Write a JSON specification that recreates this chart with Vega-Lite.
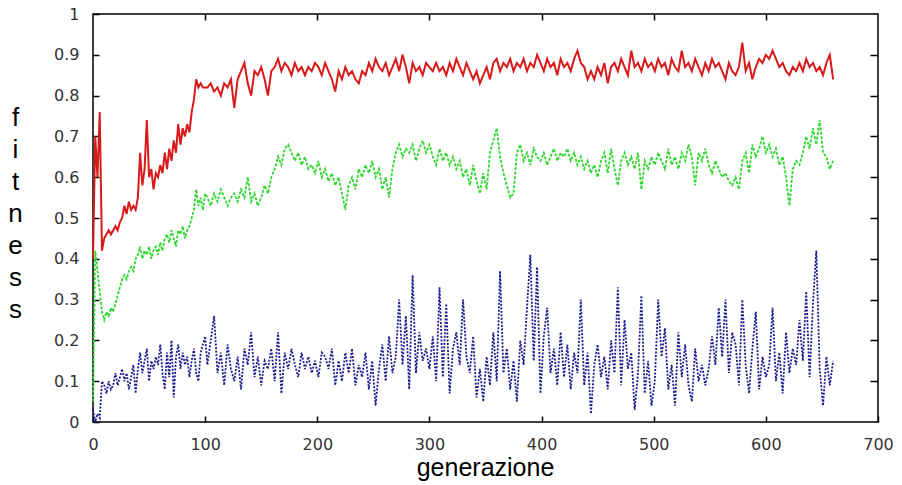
{
"$schema": "https://vega.github.io/schema/vega-lite/v6.json",
"width": 785, "height": 408,
"autosize": "none",
"padding": {"left": 93, "top": 14, "right": 24, "bottom": 63},
"background": "white",
"config": {
  "view": {"stroke": "black", "strokeWidth": 1.5},
  "axis": {"domain": false, "grid": false, "tickColor": "black", "tickWidth": 1.5, "labelFont": "DejaVu Sans", "labelFontSize": 16, "labelColor": "#333", "labelFlush": false, "labelOverlap": false}
},
"data": {"values": [
{"g":0,"r":0.40,"v":0.05,"b":0.03},{"g":2,"r":0.70,"v":0.42,"b":0.00},{"g":4,"r":0.60,"v":0.37,"b":0.02},{"g":6,"r":0.76,"v":0.32,"b":0.01},
{"g":8,"r":0.42,"v":0.27,"b":0.10},{"g":10,"r":0.45,"v":0.25,"b":0.09},{"g":12,"r":0.46,"v":0.27,"b":0.07},{"g":14,"r":0.47,"v":0.26,"b":0.10},
{"g":16,"r":0.46,"v":0.28,"b":0.08},{"g":18,"r":0.47,"v":0.27,"b":0.09},{"g":20,"r":0.48,"v":0.29,"b":0.12},{"g":22,"r":0.47,"v":0.31,"b":0.09},
{"g":24,"r":0.49,"v":0.33,"b":0.11},{"g":26,"r":0.50,"v":0.35,"b":0.13},{"g":28,"r":0.53,"v":0.36,"b":0.10},{"g":30,"r":0.51,"v":0.35,"b":0.12},
{"g":32,"r":0.54,"v":0.37,"b":0.08},{"g":34,"r":0.52,"v":0.38,"b":0.11},{"g":36,"r":0.53,"v":0.37,"b":0.14},{"g":38,"r":0.52,"v":0.40,"b":0.07},
{"g":40,"r":0.55,"v":0.41,"b":0.13},{"g":42,"r":0.66,"v":0.43,"b":0.17},{"g":44,"r":0.58,"v":0.40,"b":0.12},{"g":46,"r":0.62,"v":0.42,"b":0.15},
{"g":48,"r":0.74,"v":0.41,"b":0.18},{"g":50,"r":0.60,"v":0.43,"b":0.10},{"g":52,"r":0.62,"v":0.40,"b":0.15},{"g":54,"r":0.57,"v":0.42,"b":0.13},
{"g":56,"r":0.61,"v":0.43,"b":0.16},{"g":58,"r":0.60,"v":0.41,"b":0.14},{"g":60,"r":0.63,"v":0.44,"b":0.19},{"g":62,"r":0.61,"v":0.42,"b":0.12},
{"g":64,"r":0.66,"v":0.45,"b":0.08},{"g":66,"r":0.62,"v":0.46,"b":0.17},{"g":68,"r":0.67,"v":0.44,"b":0.11},{"g":70,"r":0.64,"v":0.47,"b":0.20},
{"g":72,"r":0.69,"v":0.45,"b":0.06},{"g":74,"r":0.66,"v":0.43,"b":0.16},{"g":76,"r":0.73,"v":0.47,"b":0.19},{"g":78,"r":0.68,"v":0.46,"b":0.13},
{"g":80,"r":0.72,"v":0.48,"b":0.17},{"g":82,"r":0.70,"v":0.45,"b":0.14},{"g":84,"r":0.73,"v":0.47,"b":0.16},{"g":86,"r":0.71,"v":0.48,"b":0.11},
{"g":88,"r":0.76,"v":0.50,"b":0.15},{"g":90,"r":0.79,"v":0.52,"b":0.18},{"g":92,"r":0.84,"v":0.57,"b":0.12},{"g":94,"r":0.82,"v":0.53,"b":0.10},
{"g":96,"r":0.83,"v":0.55,"b":0.17},{"g":98,"r":0.82,"v":0.52,"b":0.19},{"g":100,"r":0.82,"v":0.56,"b":0.21},
{"g":102,"r":0.82,"v":0.55,"b":0.14},{"g":105,"r":0.83,"v":0.53,"b":0.20},{"g":108,"r":0.81,"v":0.56,"b":0.26},{"g":111,"r":0.82,"v":0.54,"b":0.12},
{"g":114,"r":0.80,"v":0.57,"b":0.17},{"g":117,"r":0.83,"v":0.55,"b":0.09},{"g":120,"r":0.82,"v":0.53,"b":0.19},{"g":123,"r":0.84,"v":0.55,"b":0.13},
{"g":126,"r":0.77,"v":0.56,"b":0.10},{"g":129,"r":0.84,"v":0.54,"b":0.16},{"g":132,"r":0.86,"v":0.57,"b":0.08},{"g":135,"r":0.88,"v":0.55,"b":0.18},
{"g":138,"r":0.83,"v":0.60,"b":0.14},{"g":141,"r":0.80,"v":0.54,"b":0.22},{"g":144,"r":0.86,"v":0.56,"b":0.11},{"g":147,"r":0.85,"v":0.53,"b":0.16},
{"g":150,"r":0.87,"v":0.55,"b":0.09},{"g":153,"r":0.84,"v":0.58,"b":0.15},{"g":156,"r":0.80,"v":0.56,"b":0.13},{"g":159,"r":0.86,"v":0.60,"b":0.18},
{"g":162,"r":0.87,"v":0.62,"b":0.10},{"g":165,"r":0.89,"v":0.65,"b":0.22},{"g":168,"r":0.86,"v":0.63,"b":0.07},{"g":171,"r":0.88,"v":0.67,"b":0.17},
{"g":174,"r":0.87,"v":0.68,"b":0.13},{"g":177,"r":0.85,"v":0.66,"b":0.18},{"g":180,"r":0.88,"v":0.64,"b":0.14},{"g":183,"r":0.86,"v":0.66,"b":0.11},
{"g":186,"r":0.87,"v":0.63,"b":0.17},{"g":189,"r":0.85,"v":0.65,"b":0.13},{"g":192,"r":0.87,"v":0.62,"b":0.16},{"g":195,"r":0.86,"v":0.63,"b":0.12},
{"g":198,"r":0.88,"v":0.61,"b":0.15},{"g":201,"r":0.87,"v":0.64,"b":0.11},{"g":204,"r":0.85,"v":0.60,"b":0.17},{"g":207,"r":0.88,"v":0.62,"b":0.16},
{"g":210,"r":0.86,"v":0.59,"b":0.13},{"g":213,"r":0.84,"v":0.61,"b":0.18},{"g":216,"r":0.81,"v":0.58,"b":0.09},{"g":219,"r":0.86,"v":0.60,"b":0.15},
{"g":222,"r":0.84,"v":0.56,"b":0.10},{"g":225,"r":0.87,"v":0.52,"b":0.17},{"g":228,"r":0.85,"v":0.58,"b":0.12},{"g":231,"r":0.86,"v":0.60,"b":0.18},
{"g":234,"r":0.84,"v":0.57,"b":0.09},{"g":237,"r":0.83,"v":0.62,"b":0.14},{"g":240,"r":0.86,"v":0.60,"b":0.11},{"g":243,"r":0.85,"v":0.63,"b":0.17},
{"g":246,"r":0.88,"v":0.61,"b":0.08},{"g":249,"r":0.86,"v":0.64,"b":0.15},{"g":252,"r":0.89,"v":0.60,"b":0.04},{"g":255,"r":0.87,"v":0.62,"b":0.13},
{"g":258,"r":0.86,"v":0.57,"b":0.19},{"g":261,"r":0.88,"v":0.60,"b":0.10},{"g":264,"r":0.85,"v":0.55,"b":0.21},{"g":267,"r":0.87,"v":0.62,"b":0.12},
{"g":270,"r":0.89,"v":0.66,"b":0.16},{"g":273,"r":0.86,"v":0.68,"b":0.30},{"g":276,"r":0.90,"v":0.65,"b":0.14},{"g":279,"r":0.87,"v":0.67,"b":0.26},
{"g":282,"r":0.83,"v":0.66,"b":0.08},{"g":285,"r":0.88,"v":0.68,"b":0.36},{"g":288,"r":0.86,"v":0.64,"b":0.12},{"g":291,"r":0.87,"v":0.67,"b":0.22},
{"g":294,"r":0.85,"v":0.69,"b":0.15},{"g":297,"r":0.88,"v":0.66,"b":0.18},{"g":300,"r":0.87,"v":0.68,"b":0.13},{"g":303,"r":0.86,"v":0.65,"b":0.21},
{"g":306,"r":0.88,"v":0.63,"b":0.10},{"g":309,"r":0.86,"v":0.67,"b":0.33},{"g":312,"r":0.87,"v":0.64,"b":0.11},{"g":315,"r":0.85,"v":0.66,"b":0.29},
{"g":318,"r":0.88,"v":0.63,"b":0.07},{"g":321,"r":0.86,"v":0.65,"b":0.18},{"g":324,"r":0.89,"v":0.62,"b":0.22},{"g":327,"r":0.87,"v":0.64,"b":0.14},
{"g":330,"r":0.85,"v":0.60,"b":0.30},{"g":333,"r":0.88,"v":0.62,"b":0.16},{"g":336,"r":0.86,"v":0.58,"b":0.12},{"g":339,"r":0.84,"v":0.63,"b":0.21},
{"g":342,"r":0.86,"v":0.59,"b":0.06},{"g":345,"r":0.83,"v":0.56,"b":0.13},{"g":348,"r":0.85,"v":0.61,"b":0.05},{"g":351,"r":0.87,"v":0.57,"b":0.16},
{"g":354,"r":0.84,"v":0.66,"b":0.09},{"g":357,"r":0.88,"v":0.69,"b":0.22},{"g":360,"r":0.89,"v":0.72,"b":0.10},{"g":363,"r":0.86,"v":0.65,"b":0.37},
{"g":366,"r":0.88,"v":0.61,"b":0.12},{"g":369,"r":0.87,"v":0.58,"b":0.18},{"g":372,"r":0.89,"v":0.55,"b":0.08},{"g":375,"r":0.86,"v":0.56,"b":0.15},
{"g":378,"r":0.88,"v":0.66,"b":0.05},{"g":381,"r":0.87,"v":0.68,"b":0.20},{"g":384,"r":0.89,"v":0.64,"b":0.14},{"g":387,"r":0.86,"v":0.66,"b":0.28},
{"g":390,"r":0.88,"v":0.63,"b":0.41},{"g":393,"r":0.87,"v":0.67,"b":0.15},{"g":396,"r":0.90,"v":0.65,"b":0.38},{"g":399,"r":0.88,"v":0.64,"b":0.07},
{"g":402,"r":0.86,"v":0.66,"b":0.21},{"g":405,"r":0.89,"v":0.63,"b":0.28},{"g":408,"r":0.87,"v":0.65,"b":0.12},{"g":411,"r":0.88,"v":0.67,"b":0.18},
{"g":414,"r":0.85,"v":0.64,"b":0.09},{"g":417,"r":0.89,"v":0.66,"b":0.22},{"g":420,"r":0.87,"v":0.65,"b":0.11},{"g":423,"r":0.88,"v":0.67,"b":0.19},
{"g":426,"r":0.86,"v":0.64,"b":0.08},{"g":429,"r":0.89,"v":0.66,"b":0.17},{"g":432,"r":0.91,"v":0.63,"b":0.12},{"g":435,"r":0.88,"v":0.65,"b":0.30},
{"g":438,"r":0.87,"v":0.62,"b":0.09},{"g":441,"r":0.84,"v":0.64,"b":0.17},{"g":444,"r":0.86,"v":0.61,"b":0.02},{"g":447,"r":0.84,"v":0.63,"b":0.14},
{"g":450,"r":0.87,"v":0.60,"b":0.19},{"g":453,"r":0.85,"v":0.64,"b":0.11},{"g":456,"r":0.88,"v":0.66,"b":0.16},{"g":459,"r":0.83,"v":0.61,"b":0.08},
{"g":462,"r":0.87,"v":0.67,"b":0.20},{"g":465,"r":0.88,"v":0.62,"b":0.12},{"g":468,"r":0.86,"v":0.58,"b":0.33},{"g":471,"r":0.89,"v":0.64,"b":0.09},
{"g":474,"r":0.87,"v":0.66,"b":0.25},{"g":477,"r":0.85,"v":0.63,"b":0.13},{"g":480,"r":0.91,"v":0.65,"b":0.17},{"g":483,"r":0.87,"v":0.62,"b":0.03},
{"g":486,"r":0.88,"v":0.66,"b":0.12},{"g":489,"r":0.86,"v":0.57,"b":0.31},{"g":492,"r":0.89,"v":0.64,"b":0.07},{"g":495,"r":0.87,"v":0.62,"b":0.15},
{"g":498,"r":0.88,"v":0.65,"b":0.04},{"g":501,"r":0.86,"v":0.63,"b":0.10},{"g":504,"r":0.89,"v":0.66,"b":0.30},{"g":507,"r":0.87,"v":0.64,"b":0.16},
{"g":510,"r":0.88,"v":0.62,"b":0.23},{"g":513,"r":0.85,"v":0.67,"b":0.08},{"g":516,"r":0.89,"v":0.63,"b":0.14},{"g":519,"r":0.87,"v":0.65,"b":0.04},
{"g":522,"r":0.86,"v":0.62,"b":0.22},{"g":525,"r":0.91,"v":0.66,"b":0.11},{"g":528,"r":0.87,"v":0.64,"b":0.19},{"g":531,"r":0.88,"v":0.68,"b":0.09},
{"g":534,"r":0.86,"v":0.65,"b":0.05},{"g":537,"r":0.89,"v":0.58,"b":0.18},{"g":540,"r":0.87,"v":0.66,"b":0.10},{"g":543,"r":0.85,"v":0.64,"b":0.14},
{"g":546,"r":0.88,"v":0.67,"b":0.09},{"g":549,"r":0.86,"v":0.63,"b":0.13},{"g":552,"r":0.89,"v":0.61,"b":0.21},{"g":555,"r":0.87,"v":0.64,"b":0.14},
{"g":558,"r":0.88,"v":0.62,"b":0.28},{"g":561,"r":0.86,"v":0.60,"b":0.16},{"g":564,"r":0.84,"v":0.61,"b":0.30},{"g":567,"r":0.88,"v":0.59,"b":0.12},
{"g":570,"r":0.86,"v":0.58,"b":0.22},{"g":573,"r":0.85,"v":0.60,"b":0.19},{"g":576,"r":0.87,"v":0.57,"b":0.09},{"g":579,"r":0.93,"v":0.64,"b":0.30},
{"g":582,"r":0.86,"v":0.66,"b":0.14},{"g":585,"r":0.88,"v":0.61,"b":0.07},{"g":588,"r":0.84,"v":0.68,"b":0.18},{"g":591,"r":0.87,"v":0.65,"b":0.27},
{"g":594,"r":0.89,"v":0.67,"b":0.08},{"g":597,"r":0.88,"v":0.70,"b":0.16},{"g":600,"r":0.90,"v":0.66,"b":0.11},{"g":603,"r":0.89,"v":0.68,"b":0.14},
{"g":606,"r":0.91,"v":0.65,"b":0.28},{"g":609,"r":0.89,"v":0.67,"b":0.10},{"g":612,"r":0.87,"v":0.63,"b":0.17},{"g":615,"r":0.88,"v":0.65,"b":0.07},
{"g":618,"r":0.86,"v":0.60,"b":0.22},{"g":621,"r":0.85,"v":0.53,"b":0.12},{"g":624,"r":0.87,"v":0.62,"b":0.18},{"g":627,"r":0.86,"v":0.64,"b":0.14},
{"g":630,"r":0.88,"v":0.63,"b":0.25},{"g":633,"r":0.86,"v":0.66,"b":0.15},{"g":636,"r":0.89,"v":0.70,"b":0.32},{"g":639,"r":0.87,"v":0.67,"b":0.11},
{"g":642,"r":0.88,"v":0.72,"b":0.29},{"g":645,"r":0.86,"v":0.68,"b":0.42},{"g":648,"r":0.87,"v":0.74,"b":0.13},{"g":651,"r":0.85,"v":0.66,"b":0.04},
{"g":654,"r":0.88,"v":0.65,"b":0.16},{"g":657,"r":0.90,"v":0.62,"b":0.09},{"g":660,"r":0.84,"v":0.64,"b":0.15}
]},
"layer": [
  {
    "mark": {"type": "line", "color": "#d81a1a", "strokeWidth": 2, "interpolate": "linear"},
    "encoding": {
      "x": {"field": "g", "type": "quantitative", "scale": {"domain": [0, 700], "nice": false},
        "axis": {"orient": "bottom", "values": [0,100,200,300,400,500,600,700], "tickSize": -6, "labelPadding": 20,
          "title": "generazione", "titleFont": "Liberation Sans", "titleFontSize": 25, "titleFontWeight": "normal", "titleColor": "black",
          "titleBaseline": "alphabetic", "titleY": 53, "titleX": 392, "titleAlign": "center"}},
      "y": {"field": "r", "type": "quantitative", "scale": {"domain": [0, 1], "nice": false},
        "axis": {"orient": "left", "values": [0,0.1,0.2,0.3,0.4,0.5,0.6,0.7,0.8,0.9,1], "format": "~g", "tickSize": -6, "labelPadding": 20,
          "title": ["f","i","t","n","e","s","s"], "titleAngle": 0, "titleFont": "Liberation Sans", "titleFontSize": 26, "titleFontWeight": "normal",
          "titleColor": "black", "titleLineHeight": 32, "titleAlign": "center", "titleBaseline": "middle", "titleX": -78, "titleY": 103}}
    }
  },
  {
    "mark": {"type": "line", "color": "#2fd82f", "strokeWidth": 1.8, "strokeDash": [3, 1.5], "interpolate": "linear"},
    "encoding": {
      "x": {"field": "g", "type": "quantitative", "scale": {"domain": [0, 700], "nice": false},
        "axis": {"orient": "top", "values": [100,200,300,400,500,600], "tickSize": -6, "labels": false, "title": null}},
      "y": {"field": "v", "type": "quantitative", "scale": {"domain": [0, 1], "nice": false},
        "axis": {"orient": "right", "values": [0.1,0.2,0.3,0.4,0.5,0.6,0.7,0.8,0.9], "tickSize": -8, "labels": false, "title": null}}
    }
  },
  {
    "mark": {"type": "line", "color": "#1c1c90", "strokeWidth": 1.8, "strokeDash": [2, 1.5], "interpolate": "linear"},
    "encoding": {
      "x": {"field": "g", "type": "quantitative", "scale": {"domain": [0, 700], "nice": false}, "axis": null},
      "y": {"field": "b", "type": "quantitative", "scale": {"domain": [0, 1], "nice": false}, "axis": null}
    }
  }
],
"resolve": {"axis": {"x": "independent", "y": "independent"}}
}
